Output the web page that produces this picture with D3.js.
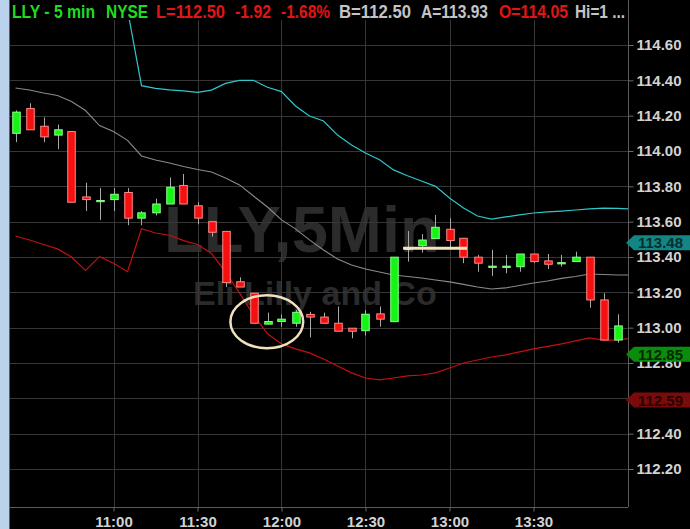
<!DOCTYPE html>
<html>
<head>
<meta charset="utf-8">
<script src="https://cdn.jsdelivr.net/npm/d3@7"></script>
<style>
  html, body { margin: 0; padding: 0; background: #000; overflow: hidden; }
  svg { display: block; font-family: "Liberation Sans", Arial, sans-serif; }
</style>
</head>
<body>
<div id="chart"></div>
<script>
// bar times (5 min)
var times = ["10:25", "10:30", "10:35", "10:40", "10:45", "10:50", "10:55", "11:00", "11:05", "11:10",
    "11:15", "11:20", "11:25", "11:30", "11:35", "11:40", "11:45", "11:50", "11:55", "12:00",
    "12:05", "12:10", "12:15", "12:20", "12:25", "12:30", "12:35", "12:40", "12:45", "12:50",
    "12:55", "13:00", "13:05", "13:10", "13:15", "13:20", "13:25", "13:30", "13:35", "13:40",
    "13:45", "13:50", "13:55", "14:00", "14:05"];

var opens = [114.10, 114.24, 114.14, 114.09, 114.11, 113.74, 113.715, 113.725, 113.765, 113.62,
    113.65, 113.70, 113.805, 113.69, 113.60, 113.545, 113.26, 113.195, 113.02, 113.035,
    113.025, 113.075, 113.06, 113.025, 112.997, 112.983, 113.078, 113.034, 113.445, 113.464,
    113.504, 113.557, 113.506, 113.399, 113.345, 113.345, 113.345, 113.417, 113.378, 113.365,
    113.374, 113.399, 113.157, 112.93];
var highs = [114.23, 114.27, 114.19, 114.15, 114.11, 113.82, 113.79, 113.79, 113.79, 113.66,
    113.73, 113.85, 113.87, 113.71, 113.60, 113.545, 113.285, 113.195, 113.085, 113.075,
    113.10, 113.09, 113.085, 113.12, 112.997, 113.10, 113.12, 113.40, 113.547, 113.53,
    113.638, 113.619, 113.506, 113.412, 113.44, 113.412, 113.417, 113.417, 113.417, 113.412,
    113.43, 113.399, 113.195, 113.076];
var lows = [114.05, 114.12, 114.05, 114.01, 113.71, 113.66, 113.61, 113.66, 113.58, 113.58,
    113.635, 113.70, 113.70, 113.585, 113.515, 113.23, 113.23, 113.025, 113.02, 113.005,
    113.005, 112.945, 113.025, 112.98, 112.94, 112.955, 113.005, 113.034, 113.374, 113.425,
    113.504, 113.444, 113.365, 113.317, 113.293, 113.308, 113.317, 113.365, 113.332, 113.345,
    113.374, 113.113, 112.93, 112.915];
var closes = [114.22, 114.12, 114.08, 114.12, 113.71, 113.725, 113.72, 113.755, 113.62, 113.65,
    113.70, 113.795, 113.70, 113.62, 113.54, 113.255, 113.23, 113.025, 113.035, 113.048,
    113.087, 113.06, 113.025, 112.98, 112.98, 113.076, 113.048, 113.399, 113.45, 113.496,
    113.568, 113.493, 113.399, 113.365, 113.348, 113.348, 113.417, 113.374, 113.359, 113.368,
    113.399, 113.157, 112.93, 113.01];

// bands (upper is off the top of the chart before 11:05)
var upperBand = [null, null, null, null, null, null, null, null, 114.80, 114.37,
    114.355, 114.346, 114.34, 114.332, 114.345, 114.383, 114.40, 114.40, 114.361, 114.336,
    114.255, 114.198, 114.17, 114.09, 114.034, 113.989, 113.95, 113.893, 113.86, 113.83,
    113.80, 113.734, 113.677, 113.632, 113.615, 113.627, 113.638, 113.649, 113.655, 113.66,
    113.666, 113.672, 113.677, 113.675, 113.672];
var middleBand = [114.357, 114.345, 114.328, 114.314, 114.28, 114.229, 114.144, 114.11, 114.06, 113.972,
    113.949, 113.932, 113.912, 113.895, 113.881, 113.847, 113.808, 113.745, 113.683, 113.61,
    113.559, 113.497, 113.44, 113.389, 113.355, 113.332, 113.315, 113.298, 113.29, 113.281,
    113.27, 113.259, 113.245, 113.23, 113.219, 113.225, 113.239, 113.253, 113.264, 113.279,
    113.29, 113.304, 113.301, 113.298, 113.298];
var lowerBand = [113.519, 113.496, 113.471, 113.446, 113.40, 113.324, 113.402, 113.365, 113.317, 113.56,
    113.536, 113.523, 113.493, 113.471, 113.42, 113.315, 113.197, 113.072, 112.965, 112.908,
    112.88, 112.857, 112.823, 112.783, 112.744, 112.715, 112.704, 112.715, 112.727, 112.732,
    112.744, 112.772, 112.80, 112.817, 112.834, 112.846, 112.863, 112.88, 112.894, 112.908,
    112.925, 112.942, 112.93, 112.93, 112.94];

var yTicks = [112.2, 112.4, 112.6, 112.8, 113.0, 113.2, 113.4, 113.6, 113.8, 114.0, 114.2, 114.4, 114.6];
var xTickLabels = ["11:00", "11:30", "12:00", "12:30", "13:00", "13:30"];

// price tags on the right axis
var tagValues = [113.48, 112.85, 112.59];
var tagFills = ["#138585", "#0c8c0c", "#7a0b0b"];
var tagTextColors = ["#06302f", "#012a01", "#2a0000"];

// header quote line
var headerTexts = ["LLY - 5 min", "NYSE", "L=112.50", "-1.92", "-1.68%", "B=112.50", "A=113.93", "O=114.05", "Hi=1 ..."];
var headerColors = ["#1fdc1f", "#1fdc1f", "#e31414", "#e31414", "#e31414", "#c4c4c4", "#c4c4c4", "#e31414", "#c4c4c4"];
var headerStarts = [12, 106, 156, 235, 281, 339, 421, 499, 575];
var headerEnds = [95, 148, 225, 271, 330, 411, 488, 568, 625];

// drawn annotations
var hLinePrice = 113.45;
var hLineTimes = ["12:43:25", "13:06:15"];
var circleTime = "11:54:45";
var circlePrice = 113.034;

var width = 690, height = 529;
var plot = { left: 10, right: 628, top: 20, bottom: 507 };

var parseTime = d3.timeParse("%H:%M");
var parseTimeSec = d3.timeParse("%H:%M:%S");

var x = d3.scaleTime()
    .domain([parseTime("10:20"), parseTime("14:05")])
    .range([1.5, 631.5]);
var y = d3.scaleLinear()
    .domain([112.2, 114.6])
    .range([469, 45]);

var bars = opens.map(function(o, i) {
    return { t: parseTime(times[i]), open: o, high: highs[i], low: lows[i], close: closes[i] };
});

var svg = d3.select("#chart").append("svg")
    .attr("width", width)
    .attr("height", height);

svg.append("rect").attr("width", width).attr("height", height).attr("fill", "#000");

// left blue strip
svg.append("rect").attr("x", 0).attr("y", 0).attr("width", 9).attr("height", height).attr("fill", "#bad2ec");
svg.append("line").attr("x1", 9.5).attr("x2", 9.5).attr("y1", 0).attr("y2", height)
    .attr("stroke", "#56606a").attr("stroke-width", 1);

svg.append("clipPath").attr("id", "plotclip")
    .append("rect")
    .attr("x", plot.left).attr("y", plot.top)
    .attr("width", plot.right - plot.left).attr("height", plot.bottom - plot.top);

// watermark
svg.append("text")
    .attr("x", 164).attr("y", 252)
    .attr("fill", "#2b2b2b")
    .style("font-size", "65px").style("font-weight", "bold")
    .text("LLY,5Min");
svg.append("text")
    .attr("x", 193).attr("y", 305)
    .attr("fill", "#2b2b2b")
    .style("font-size", "34px").style("font-weight", "bold")
    .text("Eli Lilly and Co");

// gridlines
var grid = svg.append("g");
grid.selectAll(".hg")
    .data(yTicks)
    .enter().append("line")
    .attr("x1", plot.left).attr("x2", plot.right)
    .attr("y1", function(d) { return Math.round(y(d)) + 0.5; })
    .attr("y2", function(d) { return Math.round(y(d)) + 0.5; })
    .attr("stroke", "#363636").attr("stroke-width", 1);
grid.selectAll(".vg")
    .data(xTickLabels)
    .enter().append("line")
    .attr("x1", function(d) { return Math.round(x(parseTime(d))) + 0.5; })
    .attr("x2", function(d) { return Math.round(x(parseTime(d))) + 0.5; })
    .attr("y1", plot.top).attr("y2", plot.bottom)
    .attr("stroke", "#363636").attr("stroke-width", 1);

var layer = svg.append("g").attr("clip-path", "url(#plotclip)");

function bandLine(values) {
    return d3.line()
        .defined(function(d) { return d != null; })
        .x(function(d, i) { return x(parseTime(times[i])); })
        .y(function(d) { return y(d); })(values);
}

layer.append("path").attr("d", bandLine(upperBand))
    .attr("fill", "none").attr("stroke", "#2fc6cc").attr("stroke-width", 1.2);
layer.append("path").attr("d", bandLine(middleBand))
    .attr("fill", "none").attr("stroke", "#8a8a8a").attr("stroke-width", 1.1);
layer.append("path").attr("d", bandLine(lowerBand))
    .attr("fill", "none").attr("stroke", "#c41010").attr("stroke-width", 1.2);

// candles
var candle = layer.selectAll(".candle")
    .data(bars)
    .enter().append("g");

candle.append("line")
    .attr("x1", function(d) { return Math.round(x(d.t)) + 0.5; })
    .attr("x2", function(d) { return Math.round(x(d.t)) + 0.5; })
    .attr("y1", function(d) { return y(d.high); })
    .attr("y2", function(d) { return y(d.low); })
    .attr("stroke", "#a9a9a9").attr("stroke-width", 1);

candle.append("rect")
    .attr("x", function(d) { return Math.round(x(d.t)) + 0.5 - 3.75; })
    .attr("width", 7.5)
    .attr("y", function(d) { return y(Math.max(d.open, d.close)); })
    .attr("height", function(d) { return Math.max(1.2, Math.abs(y(d.open) - y(d.close))); })
    .attr("fill", function(d) { return d.close >= d.open ? "#14f514" : "#f50f0f"; })
    .attr("stroke", function(d) { return d.close >= d.open ? "#8cff8c" : "#ff8a8a"; })
    .attr("stroke-width", 1);

// hand drawn annotations
layer.append("line")
    .attr("x1", x(parseTimeSec(hLineTimes[0]))).attr("x2", x(parseTimeSec(hLineTimes[1])))
    .attr("y1", y(hLinePrice)).attr("y2", y(hLinePrice))
    .attr("stroke", "#f3e4bd").attr("stroke-width", 3);

var ct = parseTimeSec(circleTime);
layer.append("ellipse")
    .attr("cx", x(ct))
    .attr("cy", y(circlePrice))
    .attr("rx", x(d3.timeMinute.offset(ct, 13)) - x(ct))
    .attr("ry", y(circlePrice - 0.15) - y(circlePrice))
    .attr("fill", "none").attr("stroke", "#efe1bb").attr("stroke-width", 2.5);

// axes
svg.append("line").attr("x1", plot.right + 0.5).attr("x2", plot.right + 0.5)
    .attr("y1", 0).attr("y2", plot.bottom)
    .attr("stroke", "#5a5a5a").attr("stroke-width", 1);
svg.append("line").attr("x1", plot.left).attr("x2", plot.right)
    .attr("y1", plot.bottom + 0.5).attr("y2", plot.bottom + 0.5)
    .attr("stroke", "#5a5a5a").attr("stroke-width", 1);

var yAxis = svg.append("g")
    .attr("transform", "translate(" + (plot.right + 0.5) + ",0)")
    .call(d3.axisRight(y).tickValues(yTicks).tickSize(5).tickSizeOuter(0).tickPadding(3).tickFormat(d3.format(".2f")));
yAxis.select(".domain").remove();
yAxis.selectAll("line").attr("stroke", "#6a6a6a");
yAxis.selectAll("text")
    .attr("fill", "#d2d2d2")
    .style("font-size", "15px").style("font-weight", "bold")
    .style("font-family", "'Liberation Sans', Arial, sans-serif");

var xAxis = svg.append("g")
    .attr("transform", "translate(0," + (plot.bottom + 0.5) + ")")
    .call(d3.axisBottom(x).tickValues(xTickLabels.map(parseTime)).tickSize(4).tickSizeOuter(0).tickPadding(5)
        .tickFormat(d3.timeFormat("%H:%M")));
xAxis.select(".domain").remove();
xAxis.selectAll("line").attr("stroke", "#6a6a6a");
xAxis.selectAll("text")
    .attr("fill", "#d2d2d2")
    .style("font-size", "15px").style("font-weight", "bold")
    .style("font-family", "'Liberation Sans', Arial, sans-serif");

// price tags
var tags = svg.selectAll(".tag")
    .data(tagValues)
    .enter().append("g")
    .attr("transform", function(d) { return "translate(0," + y(d) + ")"; });
tags.append("path")
    .attr("d", "M626,0 L634,-7.5 L690,-7.5 L690,7.5 L634,7.5 Z")
    .attr("fill", function(d, i) { return tagFills[i]; });
tags.append("text")
    .attr("x", 638).attr("y", 5.5)
    .attr("fill", function(d, i) { return tagTextColors[i]; })
    .style("font-size", "15px").style("font-weight", "bold")
    .text(function(d) { return d.toFixed(2); });

// header
svg.selectAll(".hdr")
    .data(headerTexts)
    .enter().append("text")
    .attr("x", function(d, i) { return headerStarts[i]; })
    .attr("y", 17.5)
    .attr("textLength", function(d, i) { return headerEnds[i] - headerStarts[i]; })
    .attr("lengthAdjust", "spacingAndGlyphs")
    .attr("fill", function(d, i) { return headerColors[i]; })
    .style("font-size", "19px").style("font-weight", "bold")
    .text(function(d) { return d; });
</script>
</body>
</html>
